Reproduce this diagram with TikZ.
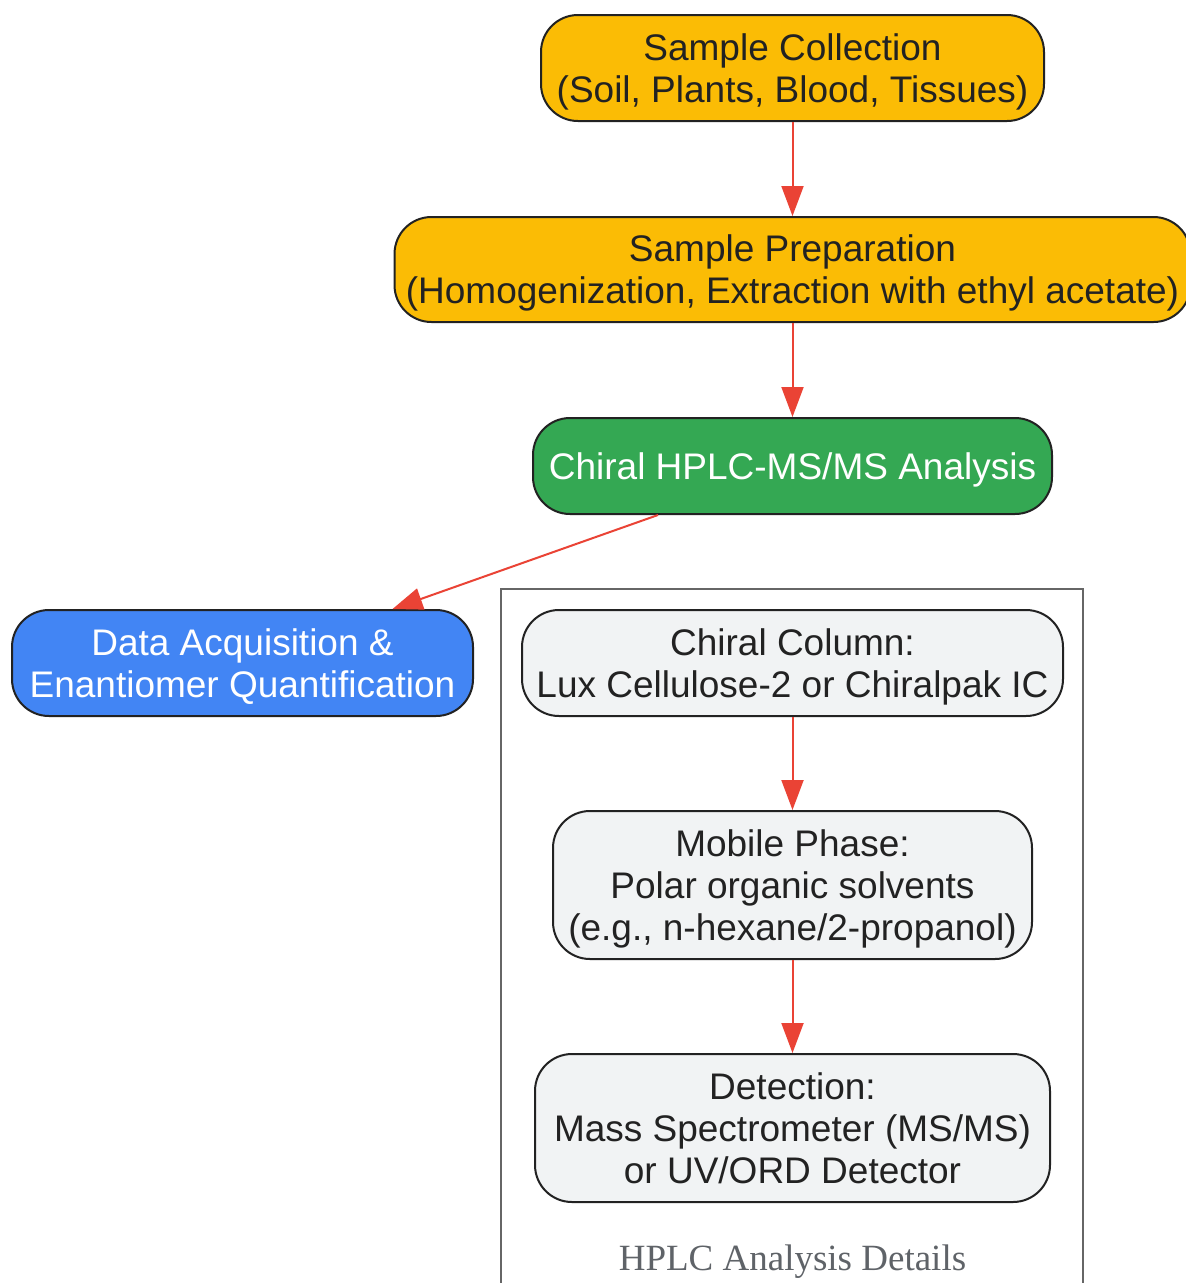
\documentclass[tikz,border=0pt]{standalone}
\usepackage{fontspec}
\setmainfont{Liberation Sans}
\newfontfamily\serifclust{Liberation Serif}
\usetikzlibrary{arrows.meta,calc}
\definecolor{cyellow}{HTML}{FBBC05}
\definecolor{cgreen}{HTML}{34A853}
\definecolor{cblue}{HTML}{4285F4}
\definecolor{cred}{HTML}{EA4335}
\definecolor{cgray}{HTML}{F1F3F4}
\definecolor{cborder}{HTML}{222222}
\definecolor{ctext}{HTML}{222222}
\definecolor{cclust}{HTML}{666666}
\definecolor{clabel}{HTML}{5F6368}
\begin{document}
\begin{tikzpicture}[x=1pt,y=-1pt,
  box/.style={draw=cborder, line width=2pt, rounded corners=37pt, align=center, inner sep=0pt,
    text depth=-8pt, font=\fontsize{37}{42}\selectfont, text=ctext},
  arr/.style={draw=cred, line width=2pt, -{Triangle[length=30pt,width=22pt]}},
  clusterline/.style={draw=cclust, line width=2pt}]
\useasboundingbox (0,0) rectangle (1186,1283);
\clip (0,0) rectangle (1186,1283);
\fill[white] (0,0) rectangle (1186,1283);
% cluster frame
\draw[clusterline] (501,1295) -- (501,589) -- (1083,589) -- (1083,1295);
\node[font=\serifclust\fontsize{37}{42}\selectfont, text=clabel] (lbl) at (792.5,1262) {HPLC Analysis Details};
% main nodes
\node[box, fill=cyellow, minimum width=503pt, minimum height=106pt] (n1) at (792.5,68)
  {Sample Collection\\(Soil, Plants, Blood, Tissues)};
\node[box, fill=cyellow, minimum width=796pt, minimum height=105pt] (n2) at (792.5,269.5)
  {Sample Preparation\\(Homogenization, Extraction with ethyl acetate)};
\node[box, fill=cgreen, text=white, minimum width=519pt, minimum height=96pt] (n3) at (792.5,466)
  {Chiral HPLC-MS/MS Analysis};
\node[box, fill=cblue, text=white, minimum width=461pt, minimum height=106pt] (n4) at (242.5,663)
  {Data Acquisition \&\\Enantiomer Quantification};
% cluster nodes
\node[box, fill=cgray, minimum width=541pt, minimum height=106pt] (n5) at (792.5,663)
  {Chiral Column:\\Lux Cellulose-2 or Chiralpak IC};
\node[box, fill=cgray, minimum width=479pt, minimum height=148pt] (n6) at (792.5,885)
  {Mobile Phase:\\Polar organic solvents\\(e.g., n-hexane/2-propanol)};
\node[box, fill=cgray, minimum width=515pt, minimum height=148pt] (n7) at (792.5,1128)
  {Detection:\\Mass Spectrometer (MS/MS)\\or UV/ORD Detector};
% connectors
\draw[arr] (n1.south) -- (n2.north);
\draw[arr] (n2.south) -- (n3.north);
\draw[arr] ([xshift=-134.5pt]n3.south) -- ([xshift=150pt]n4.north);
\draw[arr] (n5.south) -- (n6.north);
\draw[arr] (n6.south) -- (n7.north);
\end{tikzpicture}
\end{document}
